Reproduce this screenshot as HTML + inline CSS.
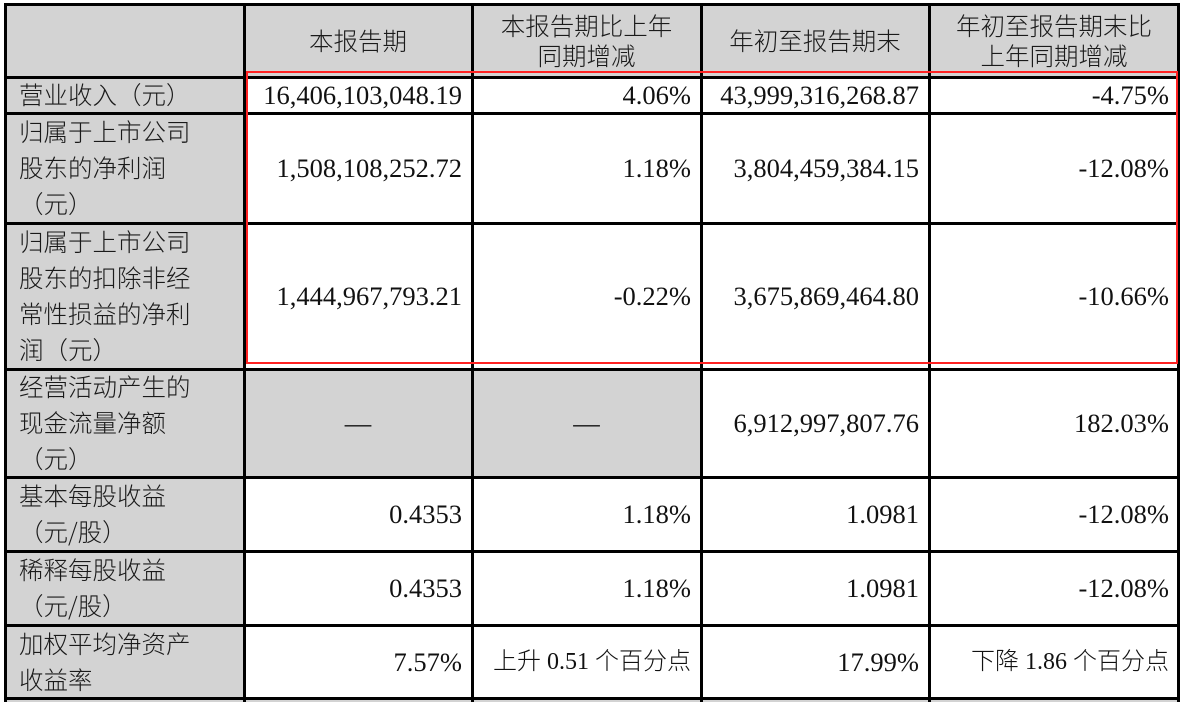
<!DOCTYPE html>
<html><head><meta charset="utf-8"><style>
body{margin:0;width:1183px;height:702px;background:#fff;position:relative;overflow:hidden;font-family:"Liberation Serif","Noto Sans CJK SC",serif;font-size:26.5px;color:#111}
.c{position:absolute;box-sizing:border-box;display:flex;align-items:center;line-height:36px;white-space:nowrap}
.g{background:#d3d3d3}
.l{padding-left:15px}
.r{justify-content:flex-end;padding-right:10px}
.m{justify-content:center;text-align:center}
.h{position:absolute;background:#000;height:3px}
.v{position:absolute;background:#000;width:3px}
.cj{font-family:"Noto Sans CJK SC",sans-serif;font-size:24.5px;font-weight:300;color:#1a1a1a}
.mx{font-size:24px;font-weight:300}
</style></head><body>
<div class="g" style="position:absolute;left:4px;top:4px;width:1175px;height:73px"></div>
<div class="g" style="position:absolute;left:4px;top:77px;width:240px;height:625px"></div>
<div class="g" style="position:absolute;left:244px;top:369px;width:457px;height:108px"></div>
<div class="g" style="position:absolute;left:4px;top:698px;width:1175px;height:4px"></div>

<div class="c m cj" style="left:244px;top:4px;width:228px;height:73px">本报告期</div>
<div class="c m cj" style="left:472px;top:4px;width:229px;height:73px;line-height:30px">本报告期比上年<br>同期增减</div>
<div class="c m cj" style="left:701px;top:4px;width:228px;height:73px">年初至报告期末</div>
<div class="c m cj" style="left:929px;top:4px;width:250px;height:73px;line-height:30px">年初至报告期末比<br>上年同期增减</div>

<div class="c l cj" style="left:4px;top:77px;width:240px;height:36px">营业收入（元）</div>
<div class="c l cj" style="left:4px;top:113px;width:240px;height:110px">归属于上市公司<br>股东的净利润<br>（元）</div>
<div class="c l cj" style="left:4px;top:223px;width:240px;height:146px">归属于上市公司<br>股东的扣除非经<br>常性损益的净利<br>润（元）</div>
<div class="c l cj" style="left:4px;top:369px;width:240px;height:108px">经营活动产生的<br>现金流量净额<br>（元）</div>
<div class="c l cj" style="left:4px;top:477px;width:240px;height:74px">基本每股收益<br>（元/股）</div>
<div class="c l cj" style="left:4px;top:551px;width:240px;height:74px">稀释每股收益<br>（元/股）</div>
<div class="c l cj" style="left:4px;top:625px;width:240px;height:73px">加权平均净资产<br>收益率</div>

<div class="c r" style="left:244px;top:77px;width:228px;height:36px">16,406,103,048.19</div>
<div class="c r" style="left:472px;top:77px;width:229px;height:36px">4.06%</div>
<div class="c r" style="left:701px;top:77px;width:228px;height:36px">43,999,316,268.87</div>
<div class="c r" style="left:929px;top:77px;width:250px;height:36px">-4.75%</div>

<div class="c r" style="left:244px;top:113px;width:228px;height:110px">1,508,108,252.72</div>
<div class="c r" style="left:472px;top:113px;width:229px;height:110px">1.18%</div>
<div class="c r" style="left:701px;top:113px;width:228px;height:110px">3,804,459,384.15</div>
<div class="c r" style="left:929px;top:113px;width:250px;height:110px">-12.08%</div>

<div class="c r" style="left:244px;top:223px;width:228px;height:146px">1,444,967,793.21</div>
<div class="c r" style="left:472px;top:223px;width:229px;height:146px">-0.22%</div>
<div class="c r" style="left:701px;top:223px;width:228px;height:146px">3,675,869,464.80</div>
<div class="c r" style="left:929px;top:223px;width:250px;height:146px">-10.66%</div>

<div class="c m" style="left:244px;top:369px;width:228px;height:108px">—</div>
<div class="c m" style="left:472px;top:369px;width:229px;height:108px">—</div>
<div class="c r" style="left:701px;top:369px;width:228px;height:108px">6,912,997,807.76</div>
<div class="c r" style="left:929px;top:369px;width:250px;height:108px">182.03%</div>

<div class="c r" style="left:244px;top:477px;width:228px;height:74px">0.4353</div>
<div class="c r" style="left:472px;top:477px;width:229px;height:74px">1.18%</div>
<div class="c r" style="left:701px;top:477px;width:228px;height:74px">1.0981</div>
<div class="c r" style="left:929px;top:477px;width:250px;height:74px">-12.08%</div>

<div class="c r" style="left:244px;top:551px;width:228px;height:74px">0.4353</div>
<div class="c r" style="left:472px;top:551px;width:229px;height:74px">1.18%</div>
<div class="c r" style="left:701px;top:551px;width:228px;height:74px">1.0981</div>
<div class="c r" style="left:929px;top:551px;width:250px;height:74px">-12.08%</div>

<div class="c r" style="left:244px;top:625px;width:228px;height:73px">7.57%</div>
<div class="c r mx" style="left:472px;top:625px;width:229px;height:73px">上升 0.51 个百分点</div>
<div class="c r" style="left:701px;top:625px;width:228px;height:73px">17.99%</div>
<div class="c r mx" style="left:929px;top:625px;width:250px;height:73px">下降 1.86 个百分点</div>

<div class="h" style="left:4px;top:3px;width:1176px"></div>
<div class="h" style="left:4px;top:76px;width:1176px"></div>
<div class="h" style="left:4px;top:112px;width:1176px"></div>
<div class="h" style="left:4px;top:222px;width:1176px"></div>
<div class="h" style="left:4px;top:368px;width:1176px"></div>
<div class="h" style="left:4px;top:476px;width:1176px"></div>
<div class="h" style="left:4px;top:550px;width:1176px"></div>
<div class="h" style="left:4px;top:624px;width:1176px"></div>
<div class="h" style="left:4px;top:697px;width:1176px"></div>
<div class="v" style="left:4px;top:3px;height:699px"></div>
<div class="v" style="left:243px;top:3px;height:699px"></div>
<div class="v" style="left:471px;top:3px;height:699px"></div>
<div class="v" style="left:700px;top:3px;height:699px"></div>
<div class="v" style="left:928px;top:3px;height:699px"></div>
<div class="v" style="left:1177px;top:3px;height:699px"></div>

<div style="position:absolute;left:246px;top:71px;width:932px;height:293px;box-sizing:border-box;border:2px solid #f22"></div>
</body></html>
